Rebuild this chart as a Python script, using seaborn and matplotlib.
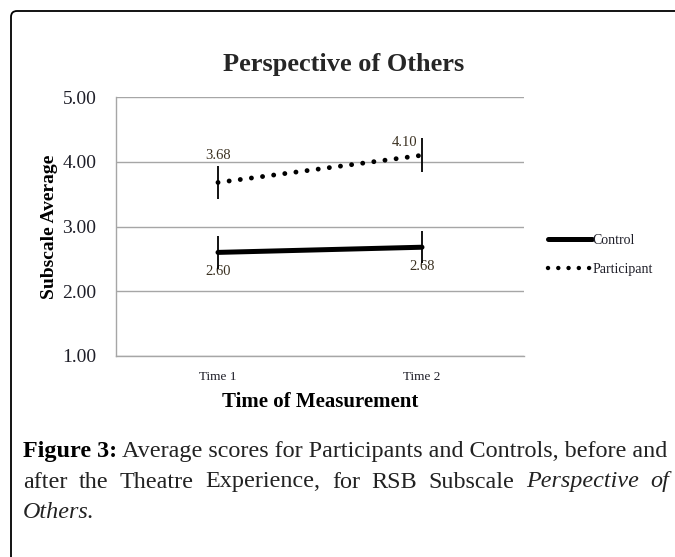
import numpy as np
import pandas as pd
import seaborn as sns
import matplotlib.pyplot as plt
from matplotlib.patches import FancyBboxPatch

times = ["Time 1", "Time 2"]
control = [2.60, 2.68]
participant = [3.68, 4.10]
control_err = [0.25, 0.25]
participant_err = [0.26, 0.26]
y_ticks = [1.0, 2.0, 3.0, 4.0, 5.0]

SERIF = ["Liberation Serif", "DejaVu Serif"]
GRID = "#a6a6a6"
TXT = "#1e1e28"
CAP = "#222222"
CAP_SIZE = 17.4


def main():
    sns.set_style("white")
    plt.rcParams["font.family"] = SERIF

    df = pd.DataFrame({
        "time": times * 2,
        "score": control + participant,
        "group": ["Control"] * 2 + ["Participant"] * 2,
    })

    fig = plt.figure(figsize=(6.75, 5.57), dpi=100)
    ax = fig.add_axes([116 / 675, 1 - 356 / 557, 408 / 675, 259 / 557])

    sns.lineplot(df[df["group"] == "Control"], x="time", y="score", ax=ax,
                 color="black", linewidth=3.6, solid_capstyle="round",
                 label="Control", zorder=3)
    sns.lineplot(df[df["group"] == "Participant"], x="time", y="score", ax=ax,
                 color="black", linewidth=3.5, dashes=False,
                 label="Participant", zorder=3)
    part_line = ax.get_lines()[1]
    part_line.set_linestyle((0, (0.01, 2.3)))
    part_line.set_dash_capstyle("round")

    xs = np.arange(len(times))
    ax.vlines(xs, np.array(control) - control_err, np.array(control) + control_err,
              color="black", linewidth=1.3, zorder=4)
    ax.vlines(xs, np.array(participant) - participant_err,
              np.array(participant) + participant_err,
              color="black", linewidth=1.3, zorder=4)

    # data labels
    p_off = [(0, 27), (-17, 13)]
    for x, v, off in zip(xs, participant, p_off):
        ax.annotate(f"{v:.2f}", (x, v), xytext=off, textcoords="offset pixels",
                    ha="center", va="center", fontsize=10.5, color="#3a3020")
    for x, v in zip(xs, control):
        ax.annotate(f"{v:.2f}", (x, v), xytext=(0, -19), textcoords="offset pixels",
                    ha="center", va="center", fontsize=10.5, color="#3a3020")

    ax.set_xlim(-0.5, 1.5)
    ax.set_ylim(1, 5)
    ax.set_yticks(y_ticks)
    ax.set_yticklabels([f"{t:.2f}" for t in y_ticks], fontsize=14, color=TXT)
    ax.set_xticks(xs)
    ax.set_xticklabels(times, fontsize=9.5, color=TXT)
    ax.set_xticks([-0.5, 0.5, 1.5], minor=True)
    ax.tick_params(axis="x", which="major", length=0, pad=11)
    ax.tick_params(axis="x", which="minor", length=4, color=GRID, width=1, direction="out")
    ax.tick_params(axis="y", length=5, color=GRID, width=1, direction="out", pad=9)
    ax.grid(axis="y", color=GRID, linewidth=1)
    ax.set_axisbelow(True)

    for side in ["top", "right"]:
        ax.spines[side].set_visible(False)
    for side in ["left", "bottom"]:
        ax.spines[side].set_color(GRID)
        ax.spines[side].set_linewidth(1)

    ax.set_xlabel("Time of Measurement", fontsize=15, fontweight="bold", color="black",
                  labelpad=6)
    ax.set_ylabel("Subscale Average", fontsize=14, fontweight="bold", color="black",
                  labelpad=3)
    ax.set_title("Perspective of Others", fontsize=19, fontweight="bold", pad=19,
                 x=(344 - 116) / 408)

    leg = ax.legend(loc="center left", bbox_to_anchor=(1.045, 0.39), frameon=False,
                    fontsize=10, handlelength=3.2, handletextpad=0.0,
                    labelspacing=1.1, borderaxespad=0)
    for t in leg.get_texts():
        t.set_color(TXT)
    leg.get_lines()[1].set_linestyle((0, (0.01, 2.3)))
    leg.get_lines()[1].set_dash_capstyle("round")
    leg.get_lines()[1].set_linewidth(3.2)

    # caption
    renderer = fig.canvas.get_renderer()
    fig.text(23 / 675, 1 - 452 / 557, "Figure 3:", fontsize=CAP_SIZE, fontweight="bold",
             color="black", va="center")
    fig.text(122 / 675, 1 - 452 / 557,
             "Average scores for Participants and Controls, before and",
             fontsize=CAP_SIZE, color=CAP, va="center")

    # justified second line, running off the right edge like the source
    words = ["after", "the", "Theatre", "Experience,", "for", "RSB", "Subscale",
             "Perspective", "of"]
    items = []
    for w in words:
        style = "italic" if w in ("Perspective", "of") else "normal"
        t = fig.text(0, 1 - 482 / 557, w, fontsize=CAP_SIZE, color=CAP,
                     style=style, va="center")
        items.append(t)
    widths = [t.get_window_extent(renderer=renderer).width for t in items]
    start, last_start = 23, 650
    gap = (last_start - start - sum(widths[:-1])) / (len(words) - 1)
    x = start
    for t, w in zip(items, widths):
        t.set_x(x / 675)
        x += w + gap

    others = fig.text(23 / 675, 1 - 512 / 557, "Others", fontsize=CAP_SIZE, color=CAP,
                      style="italic", va="center")
    bb = others.get_window_extent(renderer=renderer)
    fig.text((bb.x1 - 2) / 675, 1 - 512 / 557, ".", fontsize=CAP_SIZE, color=CAP,
             va="center")

    # rounded frame
    frame = FancyBboxPatch((11, -30), 720, 557 - 11 + 30,
                           boxstyle="round,pad=0,rounding_size=6",
                           transform=None, fill=False, edgecolor="black",
                           linewidth=1.3)
    fig.add_artist(frame)

    fig.savefig("out.png", dpi=100)


if __name__ == "__main__":
    main()
